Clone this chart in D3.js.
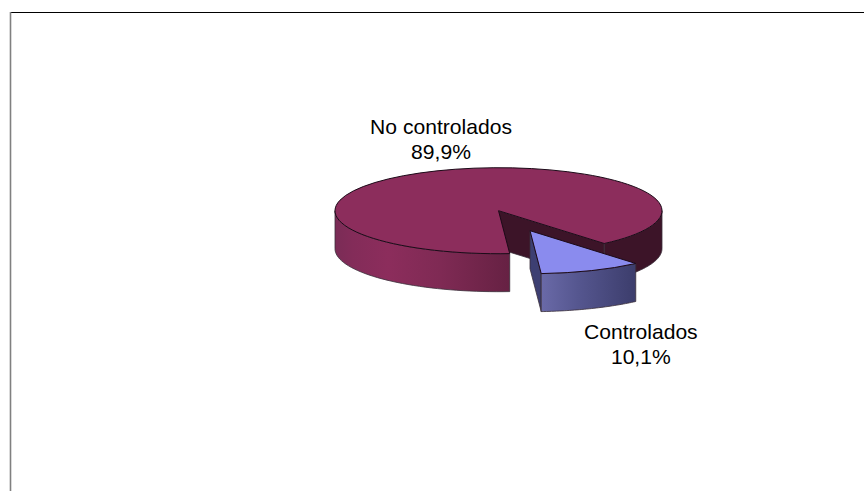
<!DOCTYPE html>
<html><head><meta charset="utf-8">
<script src="https://cdnjs.cloudflare.com/ajax/libs/d3/7.8.5/d3.min.js"></script>
<style>html,body{margin:0;padding:0;background:#fff}svg{display:block}
.wedge{stroke:#1c0a18;stroke-width:1;stroke-linejoin:round}
.side{stroke:#3a2f3a;stroke-width:.8;stroke-linejoin:round}
text{font-family:"Liberation Sans",Arial,sans-serif;font-size:20px;fill:#000;text-anchor:middle}
</style></head><body>
<svg id="c" width="864" height="491"></svg>
<script>
const categories = ["Controlados", "No controlados"];
const values = [10.1, 89.9];
const labels = ["10,1%", "89,9%"];

const W = 864, H = 491;
const cx = 498.5, cy = 210.7, rx = 163.5, ry = 43, depth = 38;
const explode = {x: 31.5, y: 20};
const startAngle = 139.7 * Math.PI / 180;

const svg = d3.select("#c");
const defs = svg.append("defs");
function grad(id, x1, x2, stops){
  const g = defs.append("linearGradient").attr("id", id).attr("gradientUnits","userSpaceOnUse")
    .attr("x1",x1).attr("x2",x2).attr("y1",0).attr("y2",0);
  stops.forEach(s => g.append("stop").attr("offset",s[0]).attr("stop-color",s[1]));
}
grad("wallM", cx-rx, cx+12, [[0,"#7a2c56"],[0.1,"#832c59"],[0.3,"#8c2d5c"],[0.6,"#7f2a54"],[1,"#662143"]]);
grad("wallB", cx+42, cx+137, [[0,"#6a6aa8"],[0.4,"#55568f"],[1,"#3c3d6c"]]);

// frame
svg.append("line").attr("x1",10).attr("x2",W).attr("y1",12.5).attr("y2",12.5).attr("stroke","#000");
svg.append("line").attr("x1",10.5).attr("x2",10.5).attr("y1",12).attr("y2",H).attr("stroke","#808080").attr("stroke-width",1.6);

const pie = d3.pie().sort(null).startAngle(startAngle).endAngle(startAngle + 2*Math.PI);
const arcs = pie(values);
const arcGen = d3.arc().innerRadius(0).outerRadius(rx);
const pt = (a, ox, oy) => [ox + rx*Math.sin(a), oy - ry*Math.cos(a)];
const line = d3.line();

function wall(a0, a1, ox, oy){
  const n = 40, rim = d3.range(n+1).map(i => pt(a0 + (a1-a0)*i/n, ox, oy));
  const bot = rim.map(p => [p[0], p[1]+depth]).reverse();
  return line(rim.concat(bot)) + "Z";
}
function cut(a, ox, oy){
  const p = pt(a, ox, oy);
  return line([[ox,oy],p,[p[0],p[1]+depth],[ox,oy+depth]]) + "Z";
}
function face(d, ox, oy, fill){
  svg.append("path").attr("class","wedge").attr("d", arcGen(d))
    .attr("vector-effect","non-scaling-stroke")
    .attr("transform",`translate(${ox},${oy}) scale(1,${ry/rx})`)
    .attr("fill",fill);
}
const small = arcs[0], big = arcs[1];
const bigEnd = big.endAngle;            // right cut edge of the large slice

// large slice: cut face, right wall (dark), left wall (gradient), top
svg.append("path").attr("class","side").attr("d",cut(bigEnd,cx,cy)).attr("fill","#3c1428");
svg.append("path").attr("class","side").attr("d",wall(bigEnd, 2.5*Math.PI, cx, cy)).attr("fill","#3c1428");
svg.append("path").attr("class","side").attr("d",wall(big.startAngle, 1.5*Math.PI, cx, cy)).attr("fill","url(#wallM)");
face(big, cx, cy, "#8c2d5c");

// exploded slice
const ex = cx+explode.x, ey = cy+explode.y;
svg.append("path").attr("class","side").attr("d",cut(small.endAngle,ex,ey)).attr("fill","#3d3f72");
svg.append("path").attr("class","side").attr("d",wall(small.startAngle,small.endAngle,ex,ey)).attr("fill","url(#wallB)");
face(small, ex, ey, "#8a8bee");

// labels
const lab = [{i:1,x:441,y:133.5},{i:0,x:640.8,y:338.5}];
lab.forEach(l=>{
  const t = svg.append("text").attr("transform",`translate(${l.x},${l.y}) scale(1.055,1)`);
  t.append("tspan").attr("x",0).text(categories[l.i]);
  t.append("tspan").attr("x",0).attr("dy",26).text(labels[l.i]);
});
</script></body></html>
